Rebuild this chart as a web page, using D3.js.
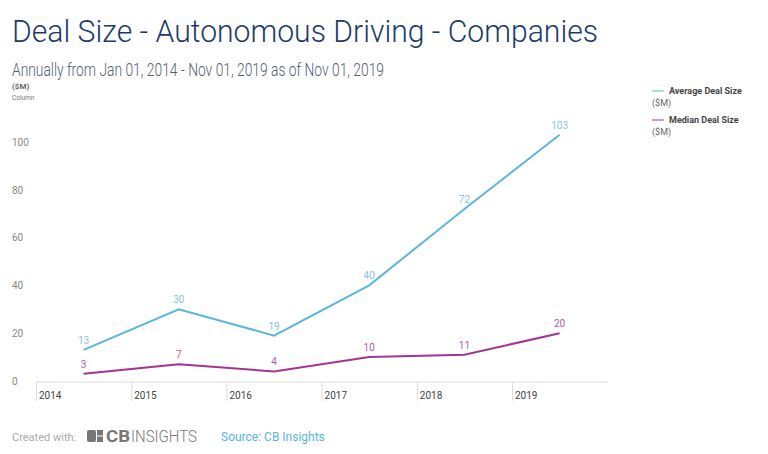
<!DOCTYPE html>
<html>
<head>
<meta charset="utf-8">
<script src="https://cdn.jsdelivr.net/npm/d3@7"></script>
<style>
  html, body { margin: 0; padding: 0; background: #fff; }
  svg { display: block; font-family: Roboto, "Noto Sans", sans-serif; }
</style>
</head>
<body>
<svg id="chart" width="768" height="454"></svg>
<script>
const years = ["2014", "2015", "2016", "2017", "2018", "2019"];
const averageDealSize = [13, 30, 19, 40, 72, 103];
const medianDealSize = [3, 7, 4, 10, 11, 20];
const yTicks = [0, 20, 40, 60, 80, 100];
const seriesNames = ["Average Deal Size", "Median Deal Size"];
const seriesColors = ["#5bb6da", "#a33494"];
const labelColors = ["#86c3e2", "#b35aa5"];

const svg = d3.select("#chart");

// Title & subtitle
svg.append("text").attr("x", 12).attr("y", 42)
  .attr("font-size", 32).attr("font-weight", 300).attr("fill", "#1d3b68")
  .attr("textLength", 586).attr("lengthAdjust", "spacingAndGlyphs")
  .text("Deal Size - Autonomous Driving - Companies");
svg.append("text").attr("x", 12).attr("y", 76)
  .attr("font-size", 18.5).attr("font-weight", 300).attr("fill", "#4f6177")
  .attr("textLength", 372).attr("lengthAdjust", "spacingAndGlyphs")
  .text("Annually from Jan 01, 2014 - Nov 01, 2019 as of Nov 01, 2019");
svg.append("text").attr("x", 12).attr("y", 89)
  .attr("font-size", 8).attr("font-weight", 700).attr("fill", "#666").text("($M)");
svg.append("text").attr("x", 12).attr("y", 100)
  .attr("font-size", 6.5).attr("fill", "#777").text("Column");

// Scales
const x = d3.scaleBand().domain(years).range([36, 607.2]).padding(0);
const y = d3.scaleLinear().domain([0, 100]).range([381, 142]);

// Y tick labels
const yAxis = d3.axisLeft(y).tickValues(yTicks).tickSize(0).tickPadding(0);
const yg = svg.append("g").attr("transform", "translate(12,0)").call(yAxis);
yg.select(".domain").remove();
yg.selectAll("text").attr("text-anchor", "start").attr("x", 0)
  .attr("font-size", 10).attr("fill", "#888").attr("font-family", "Roboto, sans-serif");

// X axis
const xg = svg.append("g");
xg.append("line").attr("x1", x.range()[0]).attr("x2", x.range()[1])
  .attr("y1", 382).attr("y2", 382).attr("stroke", "#ddd").attr("stroke-width", 1);
xg.selectAll("line.sep").data(years).join("line").attr("class", "sep")
  .attr("x1", d => x(d) + 0.5).attr("x2", d => x(d) + 0.5)
  .attr("y1", 382).attr("y2", 401).attr("stroke", "#ddd");
xg.selectAll("text").data(years).join("text")
  .attr("x", d => x(d) + 3).attr("y", 399)
  .attr("font-size", 10).attr("fill", "#444").text(d => d);

// Lines
const series = [averageDealSize, medianDealSize];
const line = d3.line().x((d, i) => x(years[i]) + x.bandwidth() / 2).y(d => y(d));
series.forEach((vals, si) => {
  svg.append("path").datum(vals).attr("d", line)
    .attr("fill", "none").attr("stroke", seriesColors[si]).attr("stroke-width", 2);
  svg.selectAll(null).data(vals).join("text")
    .attr("x", (d, i) => x(years[i]) + x.bandwidth() / 2)
    .attr("y", d => y(d) - 6)
    .attr("text-anchor", "middle").attr("font-size", 10)
    .attr("fill", labelColors[si]).text(d => d);
});

// Legend
const legendY = [91, 120];
seriesNames.forEach((name, i) => {
  svg.append("line").attr("x1", 652).attr("x2", 664)
    .attr("y1", legendY[i]).attr("y2", legendY[i])
    .attr("stroke", seriesColors[i]).attr("stroke-width", 1);
  svg.append("text").attr("x", 669).attr("y", legendY[i] + 3)
    .attr("font-size", 9).attr("font-weight", 700).attr("fill", "#444").text(name);
  svg.append("text").attr("x", 652).attr("y", legendY[i] + 15)
    .attr("font-size", 9).attr("fill", "#666").text("($M)");
});

// Footer
svg.append("text").attr("x", 12).attr("y", 441)
  .attr("font-size", 11).attr("fill", "#aaa").text("Created with:");
const logo = svg.append("g").attr("transform", "translate(87,430)");
logo.append("rect").attr("x", 0).attr("y", 0).attr("width", 9).attr("height", 12).attr("rx", 2).attr("fill", "#777");
logo.append("rect").attr("x", 10).attr("y", 0).attr("width", 6).attr("height", 5.5).attr("fill", "#777");
logo.append("rect").attr("x", 10).attr("y", 6.5).attr("width", 6).attr("height", 5.5).attr("fill", "#777");
logo.append("text").attr("x", 19).attr("y", 12).attr("font-size", 16).attr("font-weight", 700)
  .attr("fill", "#777").attr("textLength", 24).attr("lengthAdjust", "spacingAndGlyphs").text("CB");
logo.append("text").attr("x", 44).attr("y", 12).attr("font-size", 16).attr("font-weight", 300)
  .attr("fill", "#777").attr("textLength", 66).attr("lengthAdjust", "spacingAndGlyphs").text("INSIGHTS");
svg.append("text").attr("x", 221).attr("y", 441)
  .attr("font-size", 12).attr("fill", "#5ab4de").text("Source: CB Insights");
</script>
</body>
</html>
